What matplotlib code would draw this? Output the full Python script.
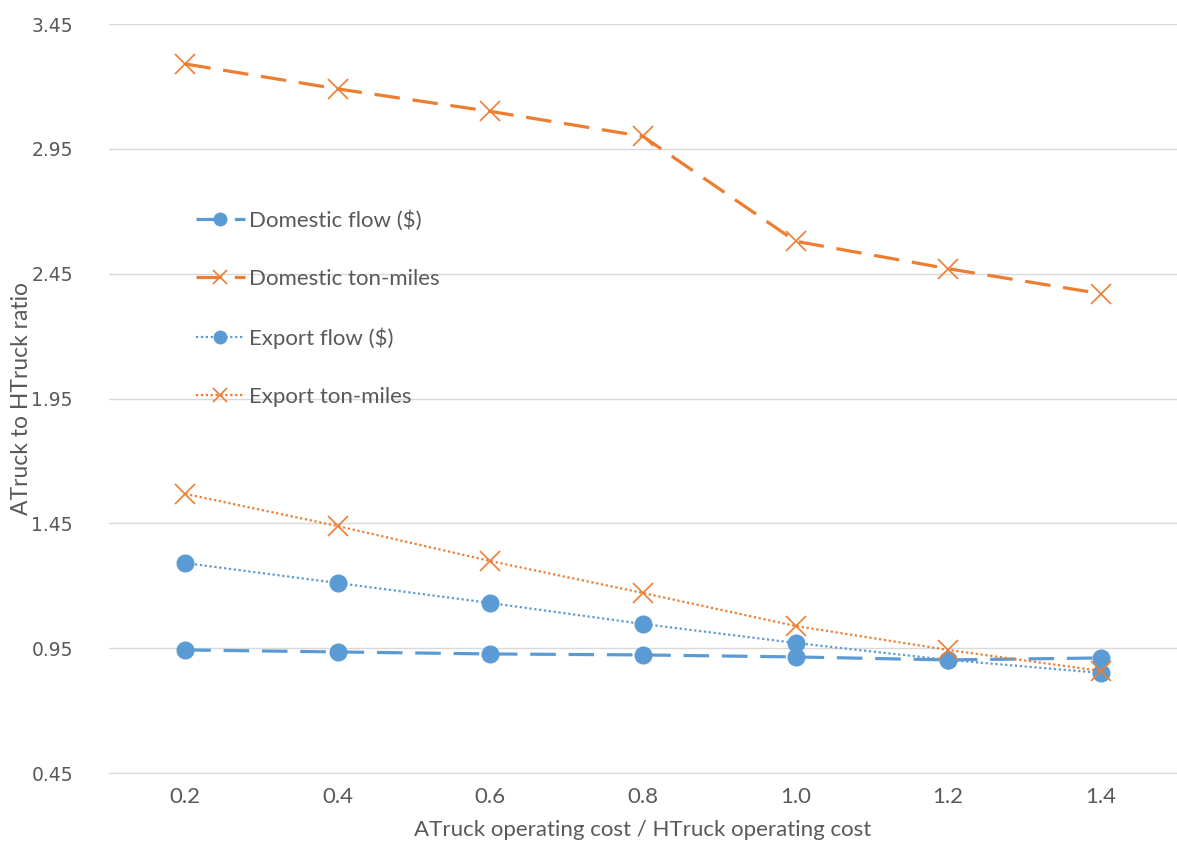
import numpy as np
import matplotlib.pyplot as plt

# cost ratio categories and the four ATruck/HTruck ratio series
cost_ratio = ["0.2", "0.4", "0.6", "0.8", "1.0", "1.2", "1.4"]
domestic_flow = [0.943, 0.935, 0.927, 0.923, 0.915, 0.903, 0.911]
domestic_ton_miles = [3.29, 3.19, 3.10, 3.00, 2.58, 2.47, 2.37]
export_flow = [1.291, 1.211, 1.131, 1.047, 0.971, 0.903, 0.851]
export_ton_miles = [1.568, 1.439, 1.299, 1.171, 1.039, 0.943, 0.859]
y_ticks = [0.45, 0.95, 1.45, 1.95, 2.45, 2.95, 3.45]

blue = "#5B9BD5"
orange = "#ED7D31"
grey = "#595959"
narrow = ["Lato", "DejaVu Sans"]

fig = plt.figure(figsize=(11.77, 8.43), dpi=100)
ax = fig.add_axes([0.0926, 0.083, 0.9074, 0.8885])

x = np.arange(len(cost_ratio))
ax.plot(x, domestic_flow, color=blue, lw=2.3, dashes=(8, 4),
        marker="o", ms=12, label="Domestic flow ($)")
ax.plot(x, domestic_ton_miles, color=orange, lw=2.3, dashes=(8, 4),
        marker="x", ms=14, mew=1.2, label="Domestic ton-miles")
ax.plot(x, export_flow, color=blue, lw=1.6, ls=(0, (1, 1.2)),
        marker="o", ms=12, label="Export flow ($)")
ax.plot(x, export_ton_miles, color=orange, lw=1.6, ls=(0, (1, 1.2)),
        marker="x", ms=14, mew=1.2, label="Export ton-miles")

ax.set_xlim(-0.5, 6.5)
ax.set_ylim(0.45, 3.45)
ax.set_yticks(y_ticks)
ax.set_yticklabels([f"{v:.2f}" for v in y_ticks], fontsize=13.5, color=grey,
                   family="DejaVu Sans")
ax.set_xticks(x)
ax.set_xticklabels(cost_ratio, fontsize=16, color=grey, family=narrow)
ax.tick_params(length=0, pad=10)
ax.tick_params(axis="y", pad=26)
ax.grid(axis="y", color="#D9D9D9", lw=1)
ax.set_axisbelow(True)
for side in ["left", "right", "top"]:
    ax.spines[side].set_visible(False)
ax.spines["bottom"].set_color("#D9D9D9")

ax.set_xlabel("ATruck operating cost / HTruck operating cost", fontsize=16,
              color=grey, family=narrow)
ax.xaxis.set_label_coords(0.5, -0.063)
ax.set_ylabel("ATruck to HTruck ratio", fontsize=16.5, color=grey,
              family=narrow, va="center")
ax.yaxis.set_label_coords(-0.0815, 0.5)

leg = ax.legend(loc="upper left", bbox_to_anchor=(0.157, 0.764),
                bbox_transform=fig.transFigure, frameon=False,
                prop={"family": "Lato", "size": 16}, labelspacing=1.72,
                handlelength=2.2, handletextpad=0.2, borderpad=0,
                markerscale=0.75)
for t in leg.get_texts():
    t.set_color(grey)

fig.savefig("out.png", dpi=100)
